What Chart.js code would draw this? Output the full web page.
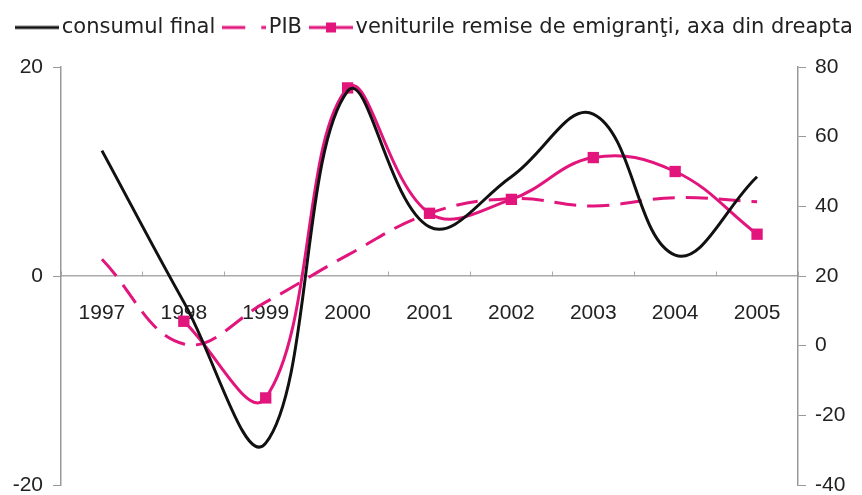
<!doctype html>
<html>
<head>
	<meta charset="utf-8">
	<title>Consum, PIB si remitente</title>
	<script src="https://cdn.jsdelivr.net/npm/chart.js@4.4.1/dist/chart.umd.min.js"></script>
	<style>
		body { margin: 0; background: #fff; }
		#box { width: 862px; height: 495px; }
	</style>
</head>
<body>
	<div id="box"><canvas id="grafic" width="862" height="495"></canvas></div>
	<script>
		// ani, valori
		var ani = ["1997", "1998", "1999", "2000", "2001", "2002", "2003", "2004", "2005"];
		var consumFinal = [12, -2.5, -16, 17.7, 4.7, 9.5, 15.5, 2, 9.5];
		var pib = [1.6, -6.5, -2.5, 2, 6, 7.4, 6.7, 7.5, 7.1];
		var remiteri = [null, 7, -15, 74, 38, 42, 54, 50, 32];   // axa din dreapta
		var axaStanga = [-20, 20, 20];    // min, max, pas
		var axaDreapta = [-40, 80, 20];

		var roz = "#E2157D";
		var negru = "#111111";

		// mostre pentru legenda (linie + marcaj)
		function mostra(culoare, linie, marcaj) {
			var c = document.createElement("canvas");
			c.width = 44; c.height = 14;
			var g = c.getContext("2d");
			g.strokeStyle = culoare;
			g.lineWidth = 3;
			g.setLineDash(linie);
			g.beginPath(); g.moveTo(0, 7); g.lineTo(44, 7); g.stroke();
			if (marcaj) {
				g.fillStyle = culoare;
				g.fillRect(17, 2, 10, 10);
			}
			return c;
		}
		var mostre = [mostra(negru, [], false), mostra(roz, [23, 16], false), mostra(roz, [], true)];

		// legenda: un singur rand, inaltime fixa, mutata putin spre dreapta / in jos
		var pozitieLegenda = {
			id: "pozitieLegenda",
			beforeInit: function (chart) {
				var fit = chart.legend.fit;
				chart.legend.fit = function () {
					var mw = this.maxWidth;
					this.maxWidth = 2000;
					fit.call(this);
					this.maxWidth = mw;
					this.width = mw;
					this.height = 67;
				};
			},
			afterLayout: function (chart) {
				var l = chart.legend;
				l.left += 7; l.right += 7;
				l.top += 2; l.bottom += 2;
			}
		};

		function axaY(latime) {
			return function (s) {
				s.width = latime;
				s.paddingTop = 10;
				s.paddingBottom = 10;
			};
		}

		new Chart("grafic", {
			type: "line",
			data: {
				labels: ani,
				datasets: [
					{
						label: "consumul final",
						data: consumFinal,
						borderColor: negru,
						backgroundColor: negru,
						borderWidth: 3,
						pointRadius: 0,
						tension: 0.4,
						yAxisID: "y"
					},
					{
						label: "PIB",
						data: pib,
						borderColor: roz,
						backgroundColor: roz,
						borderWidth: 3,
						borderDash: [22, 11],
						pointRadius: 0,
						tension: 0.4,
						yAxisID: "y"
					},
					{
						label: "veniturile remise de emigranţi, axa din dreapta",
						data: remiteri,
						borderColor: roz,
						backgroundColor: roz,
						borderWidth: 3,
						pointStyle: "rect",
						pointRadius: 8,
						pointBorderWidth: 0,
						tension: 0.4,
						yAxisID: "y1"
					}
				]
			},
			options: {
				responsive: false,
				animation: false,
				layout: { padding: { left: 0, right: 0, top: 0, bottom: 0 } },
				plugins: {
					tooltip: { enabled: false },
					legend: {
						position: "top",
						labels: {
							usePointStyle: true,
							pointStyleWidth: 28,
							padding: 15,
							color: "#222",
							font: { family: "DejaVu Sans", size: 21 },
							generateLabels: function (chart) {
								var itemi = Chart.defaults.plugins.legend.labels.generateLabels(chart);
								itemi.forEach(function (it, i) { it.pointStyle = mostre[i]; });
								return itemi;
							}
						}
					}
				},
				scales: {
					x: {
						position: { y: 0 },
						offset: true,
						grid: { display: true, drawOnChartArea: false, tickLength: -5, color: "#aaa", offset: true },
						border: { color: "#aaa", width: 1.5 },
						ticks: { padding: 30, color: "#222", font: { family: "Liberation Sans", size: 21 } }
					},
					y: {
						position: "left",
						min: axaStanga[0], max: axaStanga[1],
						afterFit: axaY(61),
						grid: { drawOnChartArea: false, tickLength: 8, color: "#999" },
						border: { color: "#999", width: 1.5 },
						ticks: { stepSize: axaStanga[2], padding: 10, color: "#222", font: { family: "Liberation Sans", size: 21 } }
					},
					y1: {
						position: "right",
						min: axaDreapta[0], max: axaDreapta[1],
						afterFit: axaY(64),
						grid: { drawOnChartArea: false, tickLength: 8, color: "#999" },
						border: { color: "#999", width: 1.5 },
						ticks: { stepSize: axaDreapta[2], padding: 9, color: "#222", font: { family: "Liberation Sans", size: 21 } }
					}
				}
			},
			plugins: [pozitieLegenda]
		});
	</script>
</body>
</html>
